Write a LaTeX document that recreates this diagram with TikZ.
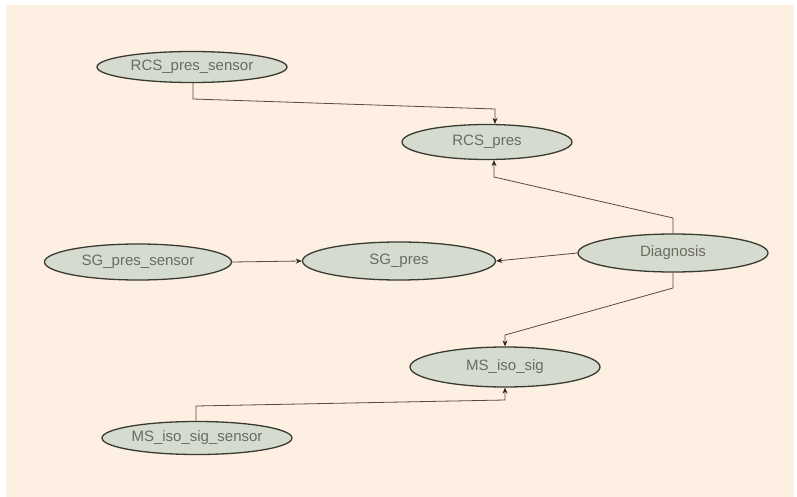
\documentclass[tikz,border=0pt]{standalone}
\usepackage{fontspec}
\setmainfont{Liberation Sans}
\usetikzlibrary{shapes.geometric,arrows.meta}
\definecolor{pagebg}{HTML}{FDF0E2}
\definecolor{nodefill}{HTML}{D5DCCF}
\definecolor{nodeline}{HTML}{3A3A30}
\definecolor{labeltext}{HTML}{6B6B60}
\definecolor{wire}{HTML}{5A4A3A}
\definecolor{tipcol}{HTML}{2A2520}
\begin{document}
\begin{tikzpicture}[x=1pt,y=-1pt,
  var/.style={ellipse, draw=nodeline, line width=1.3pt, fill=nodefill,
    inner sep=0pt, minimum width=190pt, minimum height=35pt,
    text=labeltext, font=\fontsize{15}{15}\selectfont},
  link/.style={draw=wire, line width=0.8pt,
    -{Stealth[length=6pt,width=5pt,color=tipcol]}}]
\useasboundingbox (0,0) rectangle (797,497);
\fill[white] (0,0) rectangle (797,497);
\fill[pagebg] (6,5) rectangle (794,497);

% variables of the network
\node[var, minimum height=31pt] (rcss) at (192,67) {RCS\_pres\_sensor};
\node[var, minimum width=170pt] (rcs) at (487,142) {RCS\_pres};
\node[var, minimum width=187pt, minimum height=36pt] (sgs) at (138,262) {SG\_pres\_sensor};
\node[var, minimum width=193pt, minimum height=38pt] (sg) at (399,261) {SG\_pres};
\node[var, minimum height=38pt] (diag) at (673,253) {Diagnosis};
\node[var, minimum height=40pt] (ms) at (505,367) {MS\_iso\_sig};
\node[var, minimum height=33pt] (mss) at (197,438) {MS\_iso\_sig\_sensor};

% bend points of the routed links
\coordinate (a1) at (193,99);
\coordinate (a2) at (495,109);
\coordinate (b1) at (673,218);
\coordinate (b2) at (494,177);
\coordinate (c1) at (673,288);
\coordinate (c2) at (505,335);
\coordinate (d1) at (196,406);
\coordinate (d2) at (505,400);

% links
\draw[link] (rcss.south -| a1) -- (a1) -- (a2) -- (rcs.north -| a2);
\draw[link] (diag.north) -- (b1) -- (b2) -- (rcs.south -| b2);
\draw[link] (sgs.east) -- (sg.west);
\draw[link] (diag.west) -- (sg.east);
\draw[link] (diag.south) -- (c1) -- (c2) -- (ms.north);
\draw[link] (mss.north -| d1) -- (d1) -- (d2) -- (ms.south);
\end{tikzpicture}
\end{document}
